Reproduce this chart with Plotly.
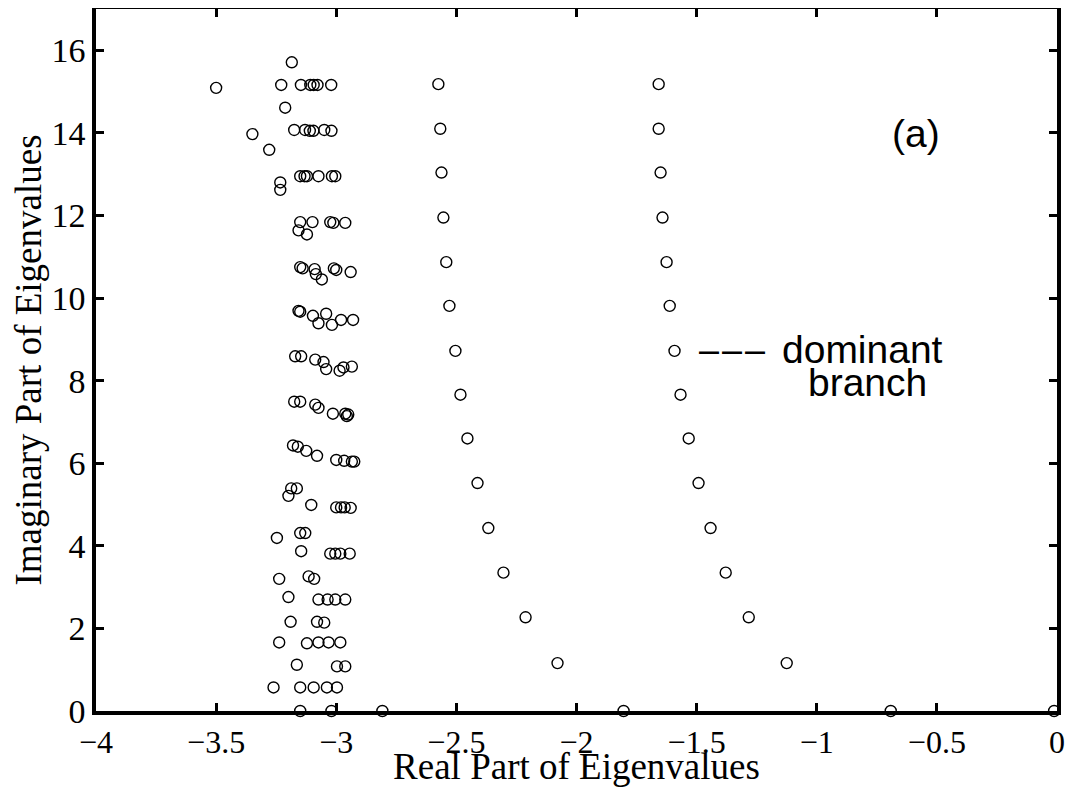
import plotly.graph_objects as go

# Dominant branch (rightmost)
dom_re = [-1.658, -1.658, -1.650, -1.642, -1.625, -1.612, -1.592, -1.567, -1.533,
          -1.492, -1.442, -1.379, -1.283, -1.125]
dom_im = [15.18, 14.10, 13.04, 11.95, 10.87, 9.81, 8.72, 7.66, 6.60,
          5.52, 4.43, 3.35, 2.27, 1.16]

# Second branch
sec_re = [-2.575, -2.567, -2.562, -2.554, -2.542, -2.529, -2.504, -2.483, -2.454,
          -2.412, -2.367, -2.304, -2.212, -2.079]
sec_im = dom_im

# Real eigenvalues (on the real axis)
real_re = [-3.15, -3.02, -2.808, -1.804, -0.692, -0.012]
real_im = [0, 0, 0, 0, 0, 0]

# Dense cluster near Re = -3
clu_re = [-3.185, -3.50,
          -3.229, -3.147, -3.108, -3.094, -3.078, -3.021,
          -3.2125,
          -3.175, -3.13, -3.11, -3.095, -3.05, -3.02,
          -3.349, -3.279,
          -3.15, -3.132, -3.122, -3.074, -3.018, -3.004,
          -3.233, -3.233,
          -3.15, -3.099, -3.025, -3.012, -2.9625, -3.157, -3.122,
          -3.15, -3.14, -3.09, -3.085, -3.06, -3.01, -3.0, -2.94,
          -3.157, -3.15, -3.097, -3.074, -3.042, -3.018, -2.98, -2.93,
          -3.171, -3.146, -3.0875, -3.053, -3.042, -2.986, -2.97, -2.935,
          -3.175, -3.15, -3.0875, -3.074, -3.014, -2.9625, -2.956, -2.95,
          -3.18, -3.16, -3.125, -3.08, -3.0, -2.967, -2.935, -2.925,
          -3.1875, -3.164, -3.199, -3.104, -3.0, -2.98, -2.965, -2.94,
          -3.247, -3.15, -3.129, -3.146, -3.025, -3.004, -2.983, -2.944,
          -3.2375, -3.115, -3.092, -3.199, -3.074, -3.036, -3.004, -2.9625,
          -3.19, -3.08, -3.05, -3.2375, -3.122, -3.074, -3.032, -2.983,
          -3.164, -2.997, -2.9625, -3.261, -3.15, -3.094, -3.039, -2.997]
clu_im = [15.71, 15.09,
          15.16, 15.16, 15.16, 15.16, 15.16, 15.16,
          14.61,
          14.07, 14.07, 14.05, 14.05, 14.07, 14.05,
          13.97, 13.59,
          12.95, 12.95, 12.95, 12.95, 12.95, 12.95,
          12.80, 12.62,
          11.84, 11.84, 11.84, 11.82, 11.82, 11.64, 11.54,
          10.75, 10.72, 10.70, 10.58, 10.45, 10.72, 10.68, 10.63,
          9.69, 9.67, 9.57, 9.39, 9.62, 9.35, 9.47, 9.47,
          8.59, 8.59, 8.51, 8.45, 8.28, 8.24, 8.32, 8.34,
          7.49, 7.49, 7.42, 7.34, 7.20, 7.20, 7.14, 7.18,
          6.43, 6.40, 6.30, 6.18, 6.08, 6.06, 6.04, 6.04,
          5.39, 5.39, 5.21, 4.99, 4.93, 4.93, 4.93, 4.92,
          4.19, 4.31, 4.31, 3.87, 3.81, 3.81, 3.81, 3.81,
          3.20, 3.26, 3.20, 2.76, 2.70, 2.70, 2.70, 2.70,
          2.16, 2.16, 2.14, 1.66, 1.64, 1.66, 1.66, 1.66,
          1.12, 1.08, 1.08, 0.57, 0.57, 0.57, 0.57, 0.57]

x_ticks = [-4, -3.5, -3, -2.5, -2, -1.5, -1, -0.5, 0]
x_labels = ["−4", "−3.5", "−3", "−2.5", "−2", "−1.5", "−1", "−0.5", "0"]
y_ticks = [0, 2, 4, 6, 8, 10, 12, 14, 16]
y_labels = [str(v) for v in y_ticks]

marker = dict(symbol="circle-open", size=11, color="black", line=dict(width=1.4, color="black"))

fig = go.Figure()
for xs, ys in [(clu_re, clu_im), (sec_re, sec_im), (dom_re, dom_im), (real_re, real_im)]:
    fig.add_trace(go.Scatter(x=xs, y=ys, mode="markers", marker=marker,
                             showlegend=False, cliponaxis=False))

serif = "Liberation Serif, Times New Roman, serif"
sans = "Liberation Sans, Arial, Helvetica, sans-serif"

axis_common = dict(showgrid=False, zeroline=False, showline=True, linecolor="black",
                   linewidth=3.5, mirror="ticks", ticks="inside", ticklen=8,
                   tickwidth=3, tickcolor="black", automargin=False)

fig.update_xaxes(range=[-4, 0], tickvals=x_ticks, ticktext=x_labels,
                 tickfont=dict(family=serif, size=32, color="black"),
                 title=dict(text="Real Part of Eigenvalues", standoff=7,
                            font=dict(family=serif, size=37, color="black")),
                 **axis_common)
fig.update_yaxes(range=[0, 17], tickvals=y_ticks, ticktext=y_labels,
                 tickfont=dict(family=serif, size=34, color="black"),
                 title=dict(text="Imaginary Part of Eigenvalues", standoff=4,
                            font=dict(family=serif, size=37, color="black")),
                 **axis_common)

fig.add_annotation(x=-0.587, y=13.98, text="(a)", showarrow=False,
                   font=dict(family=sans, size=39, color="black"))
fig.add_annotation(x=-1.207, y=8.75, text="–\u200a–\u200a–", showarrow=False,
                   xanchor="right", font=dict(family=sans, size=36, color="black"))
fig.add_annotation(x=-1.153, y=8.75, text="dominant", showarrow=False,
                   xanchor="left", font=dict(family=sans, size=39, color="black"))
fig.add_annotation(x=-0.79, y=7.95, text="branch", showarrow=False,
                   font=dict(family=sans, size=39, color="black"))

fig.update_layout(width=1063, height=779, plot_bgcolor="white", paper_bgcolor="white",
                  margin=dict(l=88, r=14, t=1, b=76))

fig.write_html("out.html")
